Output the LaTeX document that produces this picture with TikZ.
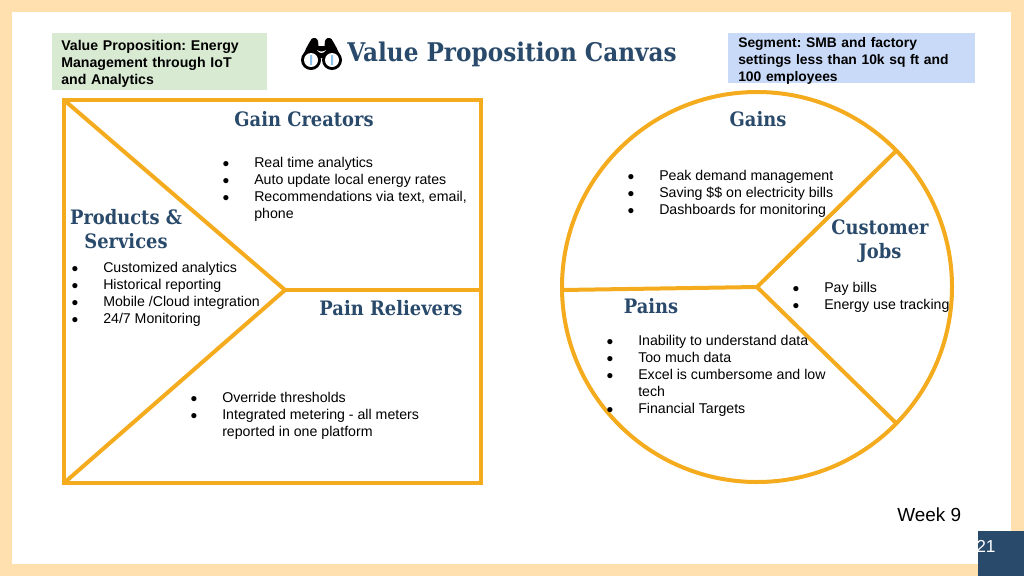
\documentclass[tikz,border=0pt]{standalone}
\usepackage{fontspec}
\usepackage{array}
\setmainfont{Liberation Sans}
\newfontfamily\headfont{DejaVu Serif}[FakeStretch=0.9]
\definecolor{frameC}{HTML}{FFE0AE}
\definecolor{lineC}{HTML}{F5AB1E}
\definecolor{navyC}{HTML}{2A4A6B}
\definecolor{greenC}{HTML}{D9EAD3}
\definecolor{blueC}{HTML}{C9DAF8}
\definecolor{lensC}{HTML}{8CC4EE}
\tikzset{
  x=0.75pt,y=-0.75pt,
  shape line/.style={draw=lineC,line width=3pt,line join=miter},
  head/.style={font=\headfont\bfseries\fontsize{14.9}{18.2}\selectfont,text=navyC,inner sep=0pt,align=center},
  bodytext/.style={font=\fontsize{10.62}{12.75}\selectfont,text=black,inner sep=0pt,anchor=north west,align=left},
  tag/.style={font=\bfseries\fontsize{10.4}{12.75}\selectfont,text=black,inner sep=0pt,anchor=north west,align=left},
}
\newcommand{\blist}[3]{\begin{tabular}{@{}p{#1}@{}p{#2}@{}}#3\end{tabular}}
\newcommand{\bu}{{\fontsize{9}{10}\selectfont ●}}
\frenchspacing
\begin{document}
\begin{tikzpicture}
\useasboundingbox (0,0) rectangle (1024,576);
\fill[frameC] (0,0) rectangle (1024,576);
\fill[white] (12,12) rectangle (1011,564);
\fill[navyC] (978,531) rectangle (1024,576);
\fill[greenC] (52,33) rectangle (267,90);
\fill[blueC] (728,33) rectangle (975,83);
\node[tag,font=\bfseries\fontsize{10.6}{12.75}\selectfont,text width=160pt] (vp) at (61,40) {Value Proposition: Energy\\Management through IoT\\and Analytics};
\node[tag,text width=185pt] (seg) at (738,37) {Segment: SMB and factory\\settings less than 10k sq ft and\\100 employees};
% binoculars
\begin{scope}[shift={(321.5,38)}]
\fill[black] (-19,20) .. controls (-17,12) and (-13,6) .. (-10,1) .. controls (-8,-1) and (-4,0) .. (-3.5,3) -- (-3,8) -- (3,8) -- (3.5,3) .. controls (4,0) and (8,-1) .. (10,1) .. controls (13,6) and (17,12) .. (19,20) -- cycle;
\fill[black] (-10.5,22) circle (10) (10.5,22) circle (10);
\fill[white] (-10.5,22) circle (7) (10.5,22) circle (7);
\fill[white] (-4.5,12) .. controls (-2,14) and (2,14) .. (4.5,12) .. controls (2,16) and (-2,16) .. (-4.5,12) -- cycle;
\fill[lensC] (-11.5,17) rectangle (-9.5,27) (9.5,17) rectangle (11.5,27);
\end{scope}
\node[head,font=\headfont\bfseries\fontsize{19.3}{23}\selectfont,anchor=west] (title) at (347,54) {Value Proposition Canvas};
% left canvas
\draw[shape line] (64,100) rectangle (481,483);
\coordinate (lj) at (285,290);
\coordinate (ltl) at (64,100);
\coordinate (lbl) at (64,483);
\coordinate (lr) at (481,290);
\draw[shape line] (ltl) -- (lj) -- (lbl);
\draw[shape line] (lj) -- (lr);
% right canvas
\coordinate (rc) at (757,287);
\coordinate (rl) at (562,290);
\coordinate (rt) at (897,150);
\coordinate (rb) at (897,424);
\draw[shape line] (rc) circle (195);
\draw[shape line] (rl) -- (rc) -- (rt);
\draw[shape line] (rc) -- (rb);
% headings
\node[head] (gc) at (304,119) {Gain Creators};
\node[head] (ps) at (126,229) {Products \&\\Services};
\node[head] (pr) at (391,308) {Pain Relievers};
\node[head] (ga) at (758,119) {Gains};
\node[head] (cj) at (880,241.5) {Customer\\Jobs};
\node[head] (pa) at (651,306) {Pains};
% lists
\node[bodytext] (l1) at (222,155.5) {\blist{24pt}{175pt}{\bu&Real time analytics\\\bu&Auto update local energy rates\\\bu&Recommendations via text, email,\\&phone}};
\node[bodytext] (l2) at (71,260.5) {\blist{24pt}{135pt}{\bu&Customized analytics\\\bu&Historical reporting\\\bu&Mobile /Cloud integration\\\bu&24/7 Monitoring}};
\node[bodytext] (l3) at (190,390.5) {\blist{24pt}{175pt}{\bu&Override thresholds\\\bu&Integrated metering - all meters\\&reported in one platform}};
\node[bodytext] (l4) at (627,168.5) {\blist{24pt}{175pt}{\bu&Peak demand management\\\bu&Saving \$\$ on electricity bills\\\bu&Dashboards for monitoring}};
\node[bodytext] (l5) at (792,280.5) {\blist{24pt}{115pt}{\bu&Pay bills\\\bu&Energy use tracking}};
\node[bodytext] (l6) at (606,333.5) {\blist{24pt}{155pt}{\bu&Inability to understand data\\\bu&Too much data\\\bu&Excel is cumbersome and low\\&tech\\\bu&Financial Targets}};
\node[font=\fontsize{14.2}{16}\selectfont,inner sep=0pt,anchor=west] (wk) at (897,514.5) {Week 9};
\node[font=\fontsize{13}{15}\selectfont,text=white,inner sep=0pt,anchor=west] (num) at (976,546) {21};
\end{tikzpicture}
\end{document}
